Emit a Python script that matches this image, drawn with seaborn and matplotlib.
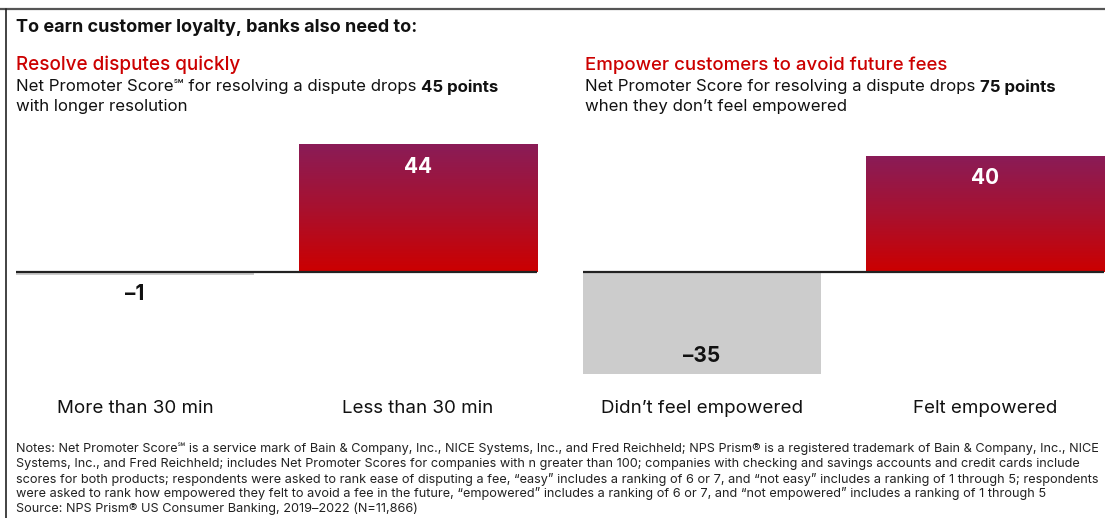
import numpy as np
import pandas as pd
import matplotlib
matplotlib.use("Agg")
import matplotlib.pyplot as plt
import seaborn as sns
from matplotlib.colors import LinearSegmentedColormap

# ---------------- data ----------------
title_text = "To earn customer loyalty, banks also need to:"
left_heading = "Resolve disputes quickly"
left_sub_plain = "Net Promoter Score\u2120 for resolving a dispute drops "
left_sub_bold = "45 points"
left_sub_line2 = "with longer resolution"
left_categories = ["More than 30 min", "Less than 30 min"]
left_values = [-1, 44]

right_heading = "Empower customers to avoid future fees"
right_sub_plain = "Net Promoter Score for resolving a dispute drops "
right_sub_bold = "75 points"
right_sub_line2 = "when they don\u2019t feel empowered"
right_categories = ["Didn\u2019t feel empowered", "Felt empowered"]
right_values = [-35, 40]

notes_lines = [
    "Notes: Net Promoter Score\u2120 is a service mark of Bain & Company, Inc., NICE Systems, Inc., and Fred Reichheld; NPS Prism\u00ae is a registered trademark of Bain & Company, Inc., NICE",
    "Systems, Inc., and Fred Reichheld; includes Net Promoter Scores for companies with n greater than 100; companies with checking and savings accounts and credit cards include",
    "scores for both products; respondents were asked to rank ease of disputing a fee, \u201ceasy\u201d includes a ranking of 6 or 7, and \u201cnot easy\u201d includes a ranking of 1 through 5; respondents",
    "were asked to rank how empowered they felt to avoid a fee in the future, \u201cempowered\u201d includes a ranking of 6 or 7, and \u201cnot empowered\u201d includes a ranking of 1 through 5",
    "Source: NPS Prism\u00ae US Consumer Banking, 2019\u20132022 (N=11,866)",
]

# ---------------- style ----------------
sns.set_theme(style="white")
FAM = ["Inter", "DejaVu Sans"]
plt.rcParams["font.family"] = FAM

RED = "#CC0000"
TOP = "#8A1C57"
GRAY = "#CCCCCC"
INK = "#111111"
W, H = 1105, 518
fig = plt.figure(figsize=(W / 100, H / 100), dpi=100)
fig.patch.set_facecolor("white")

def fx(px):
    return px / W

def fy(py):
    return 1 - py / H

grad_cmap = LinearSegmentedColormap.from_list("g", [RED, "#A8112F", TOP])

CAT_SIZE = 13.5
VAL_SIZE = 15

def panel(rect, cats, vals):
    ax = fig.add_axes(rect)
    df = pd.DataFrame({"cat": cats, "val": vals})
    sns.barplot(data=df, x="cat", y="val", ax=ax, width=0.843,
                color=GRAY, saturation=1, order=cats)
    ax.axhline(0, color="#222222", lw=1.6, zorder=5)
    for s in ax.spines.values():
        s.set_visible(False)
    ax.set_yticks([])
    ax.set_xlabel("")
    ax.set_ylabel("")
    ax.tick_params(axis="x", length=0, pad=8.5, labelsize=CAT_SIZE, labelcolor=INK)
    ax.patch.set_alpha(0)
    grad = np.linspace(0, 1, 256).reshape(-1, 1)
    for p, v in zip(ax.patches, vals):
        p.set_edgecolor("none")
        x0, w = p.get_x(), p.get_width()
        cx = x0 + w / 2
        if v > 0:
            p.set_facecolor("none")
            im = ax.imshow(grad, cmap=grad_cmap, aspect="auto", origin="lower",
                           extent=(x0, x0 + w, 0, v), zorder=2)
            im.set_clip_path(p)
            ax.annotate(f"{v}", (cx, v), xytext=(0, -16), textcoords="offset points",
                        ha="center", va="center", color="white", fontsize=VAL_SIZE,
                        fontweight="bold", zorder=6)
        else:
            txt = f"\u2013{abs(v)}"
            off = 12.5 if abs(v) > 10 else -14
            ax.annotate(txt, (cx, v), xytext=(0, off), textcoords="offset points",
                        ha="center", va="center", color=INK, fontsize=VAL_SIZE,
                        fontweight="bold", zorder=6)
    ax.set_xlim(-0.421, 1.421)
    ax.set_ylim(-40, 46)
    return ax

ax_h = 249.4 / H
ax_b = 130 / H
panel([fx(16), ax_b, fx(521), ax_h], left_categories, left_values)
panel([fx(583), ax_b, fx(521), ax_h], right_categories, right_values)

# frame lines
fig.add_artist(plt.Line2D([0, 1], [fy(9), fy(9)], color="#555555", lw=1.6))
fig.add_artist(plt.Line2D([fx(6), fx(6)], [fy(9), 0], color="#222222", lw=1.2))

renderer = fig.canvas.get_renderer()

# title
fig.text(fx(16), fy(28), title_text, fontsize=13, fontweight="bold",
         color=INK, va="center", ha="left")
# headings
fig.text(fx(16), fy(65), left_heading, fontsize=13.6, fontweight="medium",
         color=RED, va="center", ha="left")
fig.text(fx(585), fy(65), right_heading, fontsize=13.4, fontweight="medium",
         color=RED, va="center", ha="left")

SUB = 12.1

def space_w(size, weight):
    a = fig.text(0, 0, "x x", fontsize=size, fontweight=weight)
    b = fig.text(0, 0, "xx", fontsize=size, fontweight=weight)
    d = a.get_window_extent(renderer).width - b.get_window_extent(renderer).width
    a.remove(); b.remove()
    return d

sw = space_w(SUB, "normal")

def sub(x_px, y_px, plain, bold):
    t = fig.text(fx(x_px), fy(y_px), plain.rstrip(), fontsize=SUB, color=INK,
                 va="center", ha="left")
    x1 = t.get_window_extent(renderer).x1 + sw
    fig.text(fx(x1), fy(y_px), bold, fontsize=SUB, fontweight="bold",
             color=INK, va="center", ha="left")

sub(16, 87, left_sub_plain, left_sub_bold)
fig.text(fx(16), fy(106), left_sub_line2, fontsize=SUB, color=INK,
         va="center", ha="left")
sub(585, 87, right_sub_plain, right_sub_bold)
fig.text(fx(585), fy(106), right_sub_line2, fontsize=SUB, color=INK,
         va="center", ha="left")

# notes
for i, line in enumerate(notes_lines):
    fig.text(fx(16), fy(449 + 15 * i), line, fontsize=9.15, color="#222222",
             va="center", ha="left")

fig.savefig("out.png", dpi=100, facecolor="white")
